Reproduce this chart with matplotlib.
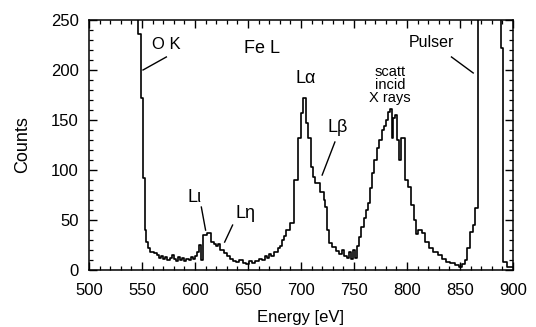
import numpy as np
import matplotlib
matplotlib.use("Agg")
import matplotlib.pyplot as plt
from matplotlib.ticker import MultipleLocator

plt.rcParams["font.family"] = ["Liberation Sans", "DejaVu Sans"]

# step histogram: energy where each step starts [eV] and its counts
# (values above 250 are off scale in the original)
energy = [500, 546, 549.5, 550.5, 552.5, 554, 555.5, 558, 561, 564, 566, 568, 570,
          572, 574, 576, 578, 580, 582, 584, 586, 588, 590, 592, 594, 596, 598,
          600, 602, 604, 606, 608, 611, 615, 618, 620, 622, 624, 627, 630, 633,
          636, 639, 642, 645, 648, 651, 654, 657, 660, 663, 666, 668, 670, 672,
          675, 678, 680, 682, 684, 686, 690, 693.7, 697.5, 700, 701.6, 704.7,
          706.9, 709.1, 711, 713.2, 718, 721.7, 723, 724.8, 726.7, 729, 733,
          736, 739, 741, 743, 745, 747, 749, 751, 753, 755, 757, 759, 761, 763,
          765, 767, 768.5, 771.5, 774, 776, 778, 780, 782, 784, 785.5, 787,
          789, 790.5, 792.5, 794.5, 798, 801, 804, 806.5, 808.5, 810.5, 814,
          817, 821, 825, 829, 833, 837, 841, 845, 849, 852, 855, 857, 859.5,
          862, 864.5, 867, 889, 891, 894, 900]
counts = [300, 236, 172, 92, 40, 28, 22, 18, 17, 15, 12, 14, 11,
          13, 10, 12, 15, 11, 9, 13, 10, 12, 9, 11, 10, 13, 11,
          14, 18, 25, 10, 35, 37, 28, 26, 24, 26, 20, 17, 14, 11,
          9, 8, 10, 7, 6, 9, 7, 9, 11, 10, 14, 12, 16, 14,
          18, 22, 24, 30, 34, 40, 47, 90, 132, 157, 172, 147,
          132, 103, 93, 87, 78, 70, 63, 40, 27, 23, 19,
          16, 20, 14, 12, 18, 11, 20, 12, 24, 33, 43, 52, 60, 67,
          82, 97, 110, 122, 130, 140, 144, 150, 158, 161, 132, 152,
          155, 130, 110, 132, 90, 83, 65, 50, 36, 40, 37,
          28, 22, 18, 15, 11, 8, 7, 5, 3, 6, 10, 22, 38,
          45, 62, 300, 222, 8, 3, 3]

fig = plt.figure(figsize=(5.36, 3.27), dpi=100)
ax = fig.add_axes([0.166, 0.174, 0.791, 0.765])

ax.step(energy, counts, where="post", color="black", lw=1.2)

ax.set_xlim(500, 900)
ax.set_ylim(0, 250)
ax.xaxis.set_major_locator(MultipleLocator(50))
ax.xaxis.set_minor_locator(MultipleLocator(10))
ax.yaxis.set_major_locator(MultipleLocator(50))
ax.yaxis.set_minor_locator(MultipleLocator(10))
ax.tick_params(which="both", direction="in", top=True, right=True, labelsize=12)
ax.tick_params(which="major", length=6, width=1.0)
ax.tick_params(which="minor", length=3, width=0.9)
ax.tick_params(axis="x", which="major", pad=9)
ax.tick_params(axis="y", which="major", pad=7.5)
for s in ax.spines.values():
    s.set_linewidth(1.1)
ax.set_xlabel("Energy [eV]", fontsize=12, labelpad=9)
ax.set_ylabel("Counts", fontsize=13, labelpad=14)

kw = dict(color="black", lw=1.0)
ax.text(559, 225, "O K", fontsize=12, ha="left", va="center")
ax.plot([573, 551], [213, 200], **kw)
ax.text(663, 221, "Fe L", fontsize=13, ha="center", va="center")
ax.text(704, 191, "L\u03b1", fontsize=13, ha="center", va="center")
ax.text(735, 143, "L\u03b2", fontsize=13, ha="center", va="center")
ax.plot([732, 720], [128, 95], **kw)
ax.text(600, 73, "L\u03b9", fontsize=13, ha="center", va="center")
ax.plot([606, 610], [63, 40], **kw)
ax.text(648, 57, "L\u03b7", fontsize=13, ha="center", va="center")
ax.plot([635.5, 628], [45, 28], **kw)
ax.text(784, 185, "scatt\nincid\nX rays", fontsize=10.5, ha="center", va="center",
        linespacing=0.95)
ax.text(823, 227, "Pulser", fontsize=11.5, ha="center", va="center")
ax.plot([842, 862.5], [213, 197], **kw)

fig.savefig("out.png", dpi=100)
